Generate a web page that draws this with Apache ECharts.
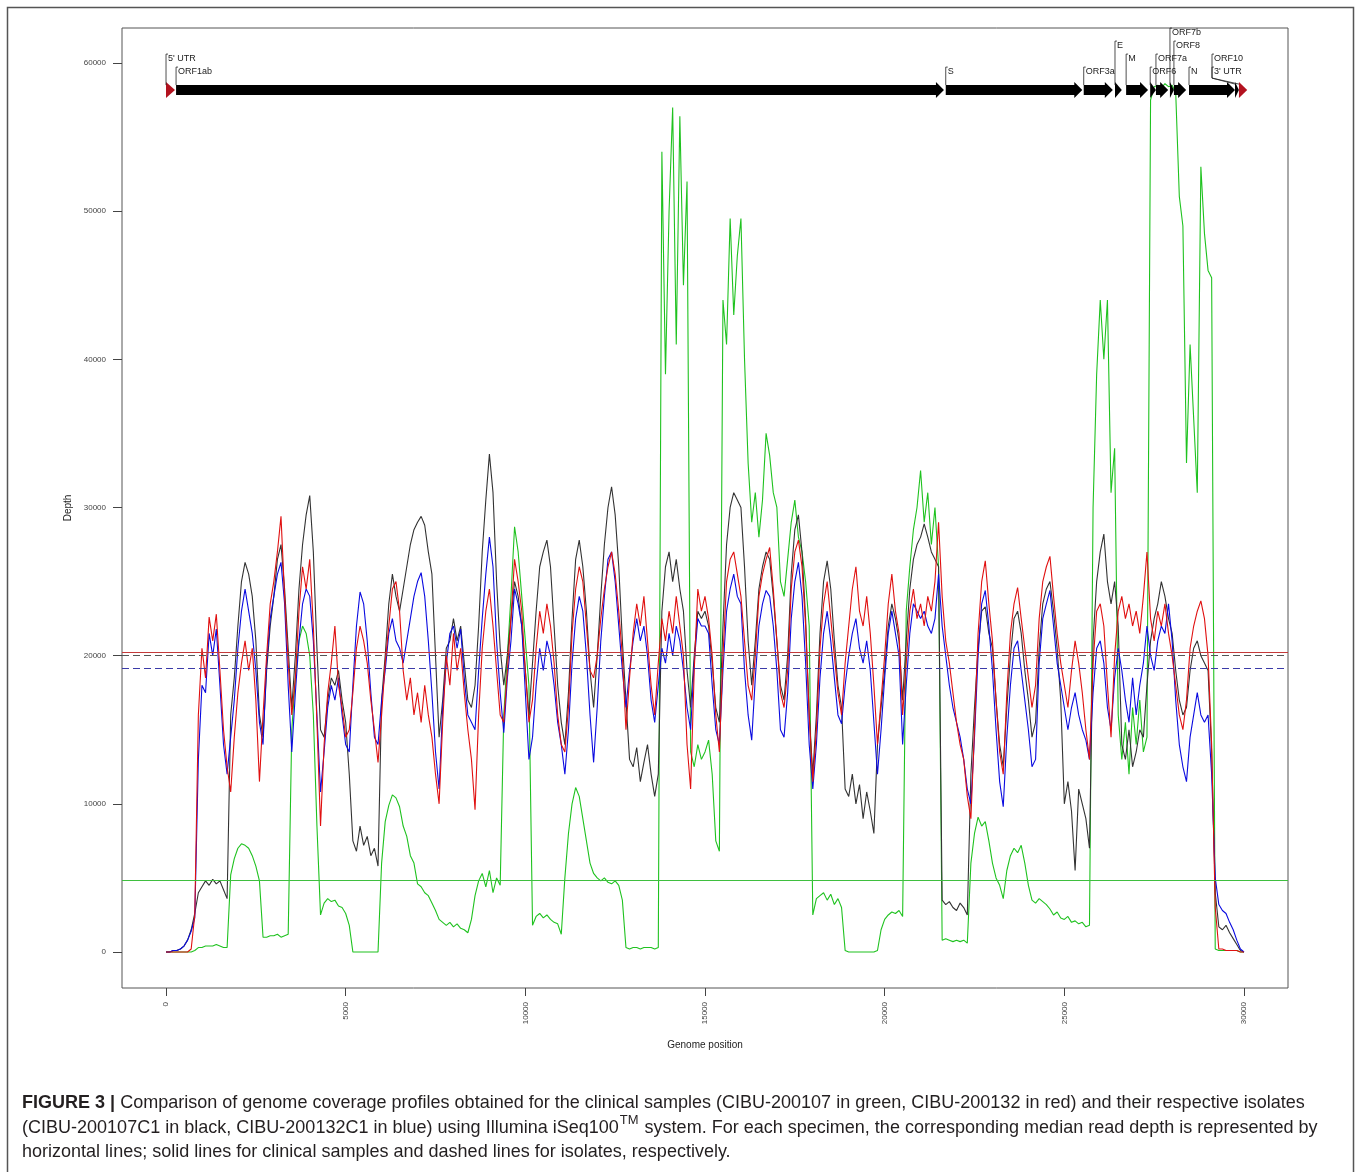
<!DOCTYPE html>
<html>
<head>
<meta charset="utf-8">
<script src="https://cdn.jsdelivr.net/npm/echarts@6.0.0/dist/echarts.min.js"></script>
<style>
  html, body { margin: 0; padding: 0; background: #fff; }
  #main { width: 1360px; height: 1172px; }
</style>
</head>
<body>
<div id="main"></div>
<script>
// read depth, in thousands of reads, sampled every 100 bp (one row = 1 kb)
var step = 100;

var greenDepthK = [ // CIBU-200107 (clinical)
  0,0,0,0,0,0,0,0,0.1,0.3,
  0.3,0.4,0.4,0.4,0.5,0.4,0.3,0.3,5.2,6.3,
  7.0,7.3,7.2,7.0,6.5,5.8,4.8,1.0,1.0,1.1,
  1.1,1.2,1.0,1.1,1.2,15.0,18.5,21.0,22.0,21.5,
  20.0,16.0,8.5,2.5,3.3,3.6,3.4,3.5,3.1,3.0,
  2.6,1.8,0,0,0,0,0,0,0,0,
  6.0,8.8,9.9,10.6,10.4,9.8,8.5,7.8,6.5,6.0,
  4.6,4.4,4.0,3.8,3.3,2.8,2.2,2.0,1.8,2.0,
  1.7,1.9,1.6,1.5,1.3,2.2,3.8,4.8,5.3,4.4,
  5.5,4.0,5.0,4.5,16.0,20.0,24.0,28.7,27.0,24.0,
  21.0,18.0,1.8,2.4,2.6,2.3,2.5,2.2,2.0,1.9,
  1.2,5.0,8.0,10.0,11.1,10.5,9.0,7.5,6.0,5.3,
  5.0,4.8,5.0,4.7,4.6,4.8,4.5,3.5,0.3,0.2,
  0.3,0.3,0.2,0.3,0.3,0.3,0.2,0.3,54.0,39.0,
  50.0,57.0,41.0,56.4,45.0,52.0,13.5,12.5,14.0,13.0,
  13.5,14.3,12.0,7.5,6.8,44.0,41.0,49.5,43.0,47.0,
  49.5,40.0,33.0,29.0,31.0,28.0,30.5,35.0,33.5,31.0,
  30.0,25.0,24.0,26.5,29.0,30.5,28.0,27.0,25.0,22.0,
  2.5,3.6,3.8,4.0,3.5,3.9,3.2,3.6,3.0,0.1,
  0,0,0,0,0,0,0,0,0.1,1.5,
  2.2,2.5,2.7,2.6,2.8,2.4,23.0,26.0,28.5,30.0,
  32.5,29.0,31.0,27.5,30.0,26.0,0.8,0.9,0.8,0.7,
  0.8,0.7,0.8,0.6,6.0,8.0,9.1,8.5,8.8,7.5,
  6.0,5.0,4.5,3.6,5.5,6.5,7.0,6.7,7.2,6.0,
  4.5,3.5,3.3,3.6,3.4,3.2,2.9,2.5,2.7,2.3,
  2.2,2.4,2.0,2.1,1.9,2.0,1.7,1.8,30.0,39.0,
  44.0,40.0,44.0,31.0,34.0,16.0,13.0,15.5,12.0,16.5,
  14.0,17.0,13.5,14.5,57.5,58.4,58.5,58.3,58.6,58.4,
  58.5,58.0,51.0,49.0,33.0,41.0,36.0,31.0,53.0,48.5,
  46.0,45.5,0.2,0.1,0.1,0.1,0.1,0.1,0.1,0,
  0
];

var blackDepthK = [ // CIBU-200107C1 (isolate)
  0,0,0.1,0.1,0.2,0.4,0.8,1.5,2.6,4.0,
  4.4,4.8,4.5,4.9,4.6,4.8,4.2,3.6,16.0,18.5,
  22.0,25.0,26.3,25.5,24.0,21.0,16.0,14.5,19.0,22.0,
  24.0,26.5,27.5,24.5,20.5,16.5,20.0,24.5,27.5,29.5,
  30.8,27.0,20.5,15.0,14.5,17.0,18.5,18.0,19.0,17.0,
  15.5,12.0,7.5,6.8,8.5,7.2,7.8,6.5,7.0,5.8,
  17.0,20.0,23.5,25.5,24.0,23.0,24.5,26.0,27.5,28.5,
  29.0,29.4,28.8,27.0,25.5,20.0,14.5,17.0,20.5,21.0,
  22.5,21.0,22.0,19.5,17.0,16.5,18.0,22.0,27.0,30.5,
  33.6,31.0,25.0,20.5,18.0,20.0,22.5,25.0,24.0,22.0,
  19.0,16.0,19.5,23.0,26.0,27.0,27.8,26.0,22.0,18.0,
  15.5,14.0,17.5,22.5,26.5,27.8,26.0,23.0,19.0,16.5,
  20.0,24.0,27.5,30.0,31.4,29.5,26.0,21.0,17.0,13.0,
  12.5,13.8,11.5,12.8,14.0,12.0,10.5,12.0,23.0,26.0,
  27.0,25.0,26.5,24.5,23.0,19.0,16.5,20.0,23.0,22.5,
  23.0,22.0,19.5,16.5,15.5,22.0,27.5,30.0,31.0,30.5,
  30.0,26.0,21.0,18.0,21.0,24.5,26.0,27.0,26.5,24.0,
  21.0,18.0,17.0,20.0,25.5,28.5,29.5,27.0,22.5,16.0,
  12.0,16.0,21.5,25.0,26.4,24.5,21.0,18.0,16.5,11.0,
  10.5,12.0,10.0,11.3,9.0,10.8,9.5,8.0,14.0,16.5,
  19.0,22.0,23.5,22.5,21.0,17.0,21.0,24.5,26.5,27.5,
  28.0,28.9,28.0,27.0,26.5,26.0,3.5,3.2,3.4,3.0,
  2.8,3.3,3.0,2.5,12.0,16.5,20.5,23.0,23.3,21.5,
  20.5,17.0,14.0,12.5,16.5,20.0,22.5,23.0,21.5,19.0,
  17.0,14.5,15.5,20.5,23.5,24.5,25.0,23.0,20.5,17.0,
  10.0,11.5,9.5,5.5,11.0,10.0,9.0,7.0,21.0,25.0,
  27.0,28.2,25.0,23.5,25.0,22.0,14.0,13.0,15.0,12.5,
  13.5,15.0,14.5,18.0,21.0,22.5,23.5,25.0,24.0,22.5,
  21.5,19.0,17.0,16.0,16.5,19.0,20.5,21.0,20.0,19.5,
  19.0,13.5,4.0,1.7,1.5,1.8,1.3,0.9,0.5,0.1,
  0
];

var blueDepthK = [ // CIBU-200132C1 (isolate)
  0,0,0.1,0.1,0.2,0.4,0.8,1.4,2.3,13.0,
  18.0,17.5,21.5,20.0,21.8,18.0,14.0,12.0,14.5,17.0,
  20.5,23.0,24.5,23.0,21.5,19.0,15.5,14.0,19.5,22.5,
  24.0,25.5,26.3,23.5,18.0,13.5,17.5,21.0,23.5,24.5,
  24.0,21.0,16.0,10.8,13.5,16.5,18.0,17.0,18.5,16.0,
  14.0,13.5,18.0,22.0,24.3,23.5,21.0,17.5,14.5,14.0,
  17.0,19.0,21.5,22.5,21.0,20.5,19.5,21.0,22.5,24.0,
  25.0,25.6,24.0,21.0,17.5,13.5,11.0,16.5,19.5,21.5,
  22.0,20.5,21.8,18.5,16.0,15.5,15.0,19.0,22.5,25.5,
  28.0,26.0,21.0,17.5,14.8,18.5,21.0,24.5,23.5,22.0,
  17.5,13.0,14.5,18.0,20.5,19.0,21.0,20.0,18.0,15.5,
  14.0,12.0,15.0,19.5,22.5,24.0,23.0,20.0,16.0,12.8,
  16.5,21.0,24.0,26.5,27.0,25.0,22.0,19.0,16.5,19.0,
  21.0,22.5,21.0,22.0,20.0,17.0,15.5,18.0,20.5,19.5,
  21.5,20.0,22.0,21.0,19.0,16.5,15.0,19.5,22.5,22.0,
  22.0,21.5,18.0,15.0,14.0,19.0,23.0,24.5,25.5,24.0,
  23.5,19.0,16.0,14.3,18.5,22.0,23.5,24.4,24.0,22.0,
  19.0,15.0,14.5,17.5,22.5,25.0,26.3,24.0,19.5,14.0,
  11.0,14.0,18.5,21.5,23.0,21.0,18.5,16.0,15.4,18.0,
  20.0,21.5,22.5,20.5,19.5,21.0,19.0,15.5,12.0,15.0,
  18.5,21.5,23.0,21.5,20.0,14.0,18.0,21.5,23.5,23.0,
  22.5,23.0,22.0,21.5,22.5,25.5,22.0,20.0,18.0,16.5,
  15.5,14.5,13.0,11.0,10.0,14.5,20.0,23.5,24.4,22.0,
  19.0,15.0,11.5,9.8,14.5,18.0,20.5,21.0,19.0,17.0,
  15.0,12.5,13.0,19.5,22.5,23.5,24.4,22.0,19.5,18.0,
  16.5,15.0,16.5,17.5,16.0,15.0,14.3,13.0,17.5,20.5,
  21.0,19.5,16.5,15.0,18.5,20.5,19.0,17.0,15.5,18.5,
  16.0,18.0,19.5,22.0,20.0,19.0,21.0,22.0,21.5,23.5,
  21.0,17.0,14.0,12.5,11.5,14.5,16.0,17.5,16.0,15.5,
  16.0,12.0,5.0,3.2,2.8,2.6,2.0,1.5,0.8,0.2,
  0
];

var redDepthK = [ // CIBU-200132 (clinical)
  0,0,0,0,0,0,0,0.2,2.5,16.0,
  20.5,18.5,22.6,21.0,22.8,19.0,15.0,12.5,10.8,14.5,
  17.5,19.5,21.0,19.0,20.5,17.0,11.5,16.0,20.0,23.5,
  25.0,27.0,29.4,24.0,19.5,16.0,18.5,23.0,26.0,24.5,
  26.5,22.0,15.5,8.5,14.0,17.5,19.5,22.0,18.0,16.5,
  14.5,15.0,17.5,20.5,22.0,21.0,19.5,17.0,15.0,12.8,
  16.0,19.5,22.0,24.5,25.0,23.0,19.0,17.0,18.5,16.0,
  17.5,15.5,18.0,16.0,14.5,12.0,10.0,15.5,20.0,18.0,
  21.5,19.0,20.5,17.5,15.0,13.0,9.6,16.0,20.5,23.0,
  24.5,22.0,19.0,16.0,15.5,19.0,22.5,26.5,25.0,23.0,
  19.0,15.5,17.0,20.5,23.0,21.5,23.5,22.0,19.5,16.0,
  14.0,13.5,16.5,21.5,24.5,26.0,25.0,22.0,19.0,18.5,
  20.0,22.5,24.5,26.0,27.0,25.5,23.0,20.0,15.0,18.5,
  21.5,23.5,22.0,24.0,21.0,18.0,16.0,19.5,22.5,21.0,
  23.0,21.5,24.0,22.0,20.0,14.0,11.0,19.0,24.5,23.0,
  24.0,22.5,20.0,16.0,13.5,20.0,25.0,26.5,27.0,25.5,
  24.0,21.0,18.0,17.0,20.0,24.0,25.5,26.5,27.3,24.5,
  21.0,17.5,16.5,19.0,24.5,27.0,27.8,26.0,22.0,16.0,
  11.5,15.0,20.5,23.5,25.0,22.5,20.0,17.5,16.0,19.5,
  22.0,24.5,26.0,23.0,22.0,24.0,21.5,18.0,14.0,17.0,
  20.0,23.5,25.5,23.0,21.5,16.0,19.5,23.0,24.5,22.5,
  23.5,22.0,24.0,23.0,25.0,29.0,24.0,21.0,19.5,17.5,
  15.5,14.0,13.0,10.5,9.0,15.0,21.5,25.0,26.4,23.5,
  21.0,17.0,13.5,12.0,17.5,21.5,23.5,24.6,22.5,20.5,
  18.5,16.5,18.0,22.5,25.0,26.0,26.7,24.0,21.5,19.5,
  18.0,16.5,19.0,21.0,19.5,17.5,15.0,13.0,19.5,23.0,
  23.5,22.0,18.0,14.5,20.0,23.0,24.0,22.5,23.5,22.0,
  23.0,21.5,24.0,27.0,22.5,21.0,23.0,22.0,23.5,21.5,
  20.0,18.0,16.0,15.0,17.0,20.5,22.0,23.0,23.7,22.5,
  20.0,14.0,3.0,0.2,0.2,0.1,0.1,0.1,0.1,0,
  0
];

// median read depth per specimen
var medianGreen = 4820;
var medianBlack = 20050;
var medianBlue = 19150;
var medianRed = 20200;

// genome annotation (bp, as drawn on the track)
var geneNames = ["5' UTR", 'ORF1ab', 'S', 'ORF3a', 'E', 'M', 'ORF6', 'ORF7a', 'ORF7b', 'ORF8', 'N', 'ORF10', "3' UTR"];
var geneStarts = [0, 280, 21700, 25540, 26410, 26720, 27390, 27550, 27940, 28050, 28470, 29750, 29860];
var geneEnds = [250, 21650, 25500, 26350, 26600, 27330, 27550, 27890, 28050, 28390, 29750, 29860, 30090];
var geneLabelRow = [1, 0, 0, 0, 2, 1, 0, 1, 3, 2, 0, 1, 0];
var geneLabelAt = [0, 280, 21700, 25540, 26410, 26720, 27390, 27550, 27940, 28050, 28470, 29110, 29110];
var geneTrackDepth = 58170;

var xTicks = [0, 5000, 10000, 15000, 20000, 25000, 30000];
var yTicks = [0, 10000, 20000, 30000, 40000, 50000, 60000];

var positions = [];
for (var i = 0; i < greenDepthK.length; i++) {
    positions.push(i * step);
}

function toPoints(depthK) {
    return depthK.map(function (v, i) {
        return [positions[i], Math.round(v * 1000)];
    });
}

function medianLine(value, color, type) {
    return {
        silent: true,
        symbol: ['none', 'none'],
        label: {show: false},
        emphasis: {disabled: true},
        lineStyle: {color: color, width: 1.2, type: type},
        data: [{yAxis: value}]
    };
}

function coverage(name, depthK, color, median, medColor, medType) {
    return {
        name: name,
        type: 'line',
        data: toPoints(depthK),
        showSymbol: false,
        silent: true,
        lineStyle: {color: color, width: 1.1},
        markLine: medianLine(median, medColor, medType)
    };
}

function renderGene(params, api) {
    var start = api.coord([api.value(0), geneTrackDepth]);
    var end = api.coord([api.value(1), geneTrackDepth]);
    var labelPt = api.coord([api.value(3), geneTrackDepth]);
    var row = api.value(2);
    var name = geneNames[params.dataIndex];
    var isUtr = name.indexOf('UTR') >= 0;
    var y = start[1], x0 = start[0], x1 = end[0];
    var head = Math.min(8, x1 - x0);
    var points = isUtr
        ? [[x0, y - 8], [x1, y], [x0, y + 8]]
        : [[x0, y - 5], [x1 - head, y - 5], [x1 - head, y - 8], [x1, y],
           [x1 - head, y + 8], [x1 - head, y + 5], [x0, y + 5]];
    var ty = y - 19 - row * 13;
    var lx = labelPt[0];
    var leader;
    if (Math.abs(lx - x0) < 1) {
        leader = [[x0 + 2, ty - 4], [x0, ty - 4], [x0, y - 5]];
    } else {
        leader = [[lx + 2, ty - 4], [lx, ty - 4], [lx, y - 12], [x0, y - 6]];
    }
    return {
        type: 'group',
        children: [
            {type: 'polygon', shape: {points: points}, style: {fill: isUtr ? '#b3121f' : '#000'}},
            {type: 'polyline', shape: {points: leader}, style: {stroke: '#222', lineWidth: 0.8, fill: null}},
            {
                type: 'text',
                style: {
                    text: name, x: lx + 2, y: ty,
                    font: '9px "Liberation Sans"', fill: '#222',
                    textAlign: 'left', textVerticalAlign: 'middle',
                    align: 'left', verticalAlign: 'middle'
                }
            }
        ]
    };
}

// caption
var capFamily = '"Liberation Sans"';
var capLines = [
    ' Comparison of genome coverage profiles obtained for the clinical samples (CIBU-200107 in green, CIBU-200132 in red) and their respective isolates',
    '(CIBU-200107C1 in black, CIBU-200132C1 in blue) using Illumina iSeq100',
    ' system. For each specimen, the corresponding median read depth is represented by',
    'horizontal lines; solid lines for clinical samples and dashed lines for isolates, respectively.'
];
var capLabel = 'FIGURE 3 |';
var measureCtx = document.createElement('canvas').getContext('2d');
function textWidth(str, font) {
    measureCtx.font = font;
    return measureCtx.measureText(str).width;
}
var w1 = textWidth(capLabel, 'bold 17px ' + capFamily) + textWidth(capLines[0], '17px ' + capFamily);
var w2 = textWidth(capLines[1] + 'TM' + capLines[2], '17px ' + capFamily);
var capSize = (17 * 1296 / w1 + 17 * 1290 / w2) / 2;
var capFont = capSize.toFixed(2) + 'px ' + capFamily;
var capBold = 'bold ' + capFont;
var supFont = (capSize * 0.72).toFixed(2) + 'px ' + capFamily;
var capX = 22;
var capColor = '#231f20';
var labelW = textWidth(capLabel, capBold);
var line2aW = textWidth(capLines[1], capFont);
var supW = textWidth('TM', supFont);

function capText(str, x, y, font) {
    return {
        type: 'text', silent: true,
        x: x, y: y,
        style: {text: str, font: font, fill: capColor, textVerticalAlign: 'middle', verticalAlign: 'middle'}
    };
}

var chart = echarts.init(document.getElementById('main'));

chart.setOption({
    backgroundColor: '#fff',
    animation: false,
    grid: {
        left: 122, top: 28, width: 1166, height: 960,
        show: true, borderColor: '#555', borderWidth: 1, backgroundColor: 'transparent'
    },
    xAxis: {
        type: 'value',
        min: -1225, max: 31225,
        name: 'Genome position',
        nameLocation: 'middle',
        nameGap: 52,
        nameTextStyle: {fontFamily: 'Liberation Sans', fontSize: 10, color: '#222'},
        axisLine: {show: false, onZero: false},
        axisTick: {show: true, length: 8, customValues: xTicks, lineStyle: {color: '#444'}},
        axisLabel: {
            customValues: xTicks, rotate: 90, margin: 14,
            fontFamily: 'Liberation Sans', fontSize: 8, color: '#444',
            formatter: function (v) { return String(v); }
        },
        splitLine: {show: false}
    },
    yAxis: {
        type: 'value',
        min: -2430, max: 62360,
        name: 'Depth',
        nameLocation: 'middle',
        nameGap: 48,
        nameTextStyle: {fontFamily: 'Liberation Sans', fontSize: 10, color: '#222'},
        axisLine: {show: false, onZero: false},
        axisTick: {show: true, length: 9, customValues: yTicks, lineStyle: {color: '#444'}},
        axisLabel: {
            customValues: yTicks, margin: 16,
            fontFamily: 'Liberation Sans', fontSize: 8, color: '#444',
            formatter: function (v) { return String(v); }
        },
        splitLine: {show: false}
    },
    series: [
        coverage('CIBU-200107', greenDepthK, '#1fc21f', medianGreen, '#3fbf3f', 'solid'),
        coverage('CIBU-200107C1', blackDepthK, '#333333', medianBlack, '#555555', [7, 4]),
        coverage('CIBU-200132C1', blueDepthK, '#0a0ae0', medianBlue, '#3b3ba8', [7, 4]),
        coverage('CIBU-200132', redDepthK, '#e01010', medianRed, '#c43a3a', 'solid'),
        {
            type: 'custom',
            silent: true,
            renderItem: renderGene,
            data: geneStarts.map(function (s, i) {
                return [s, geneEnds[i], geneLabelRow[i], geneLabelAt[i]];
            }),
            z: 10
        }
    ],
    graphic: [
        {
            type: 'rect', silent: true,
            shape: {x: 7.5, y: 7.5, width: 1346, height: 1180},
            style: {fill: null, stroke: '#555', lineWidth: 1.5}
        },
        capText(capLabel, capX, 1103, capBold),
        capText(capLines[0], capX + labelW, 1103, capFont),
        capText(capLines[1], capX, 1128, capFont),
        capText('TM', capX + line2aW + 1, 1120, supFont),
        capText(capLines[2], capX + line2aW + supW + 2, 1128, capFont),
        capText(capLines[3], capX, 1152, capFont)
    ]
});
</script>
</body>
</html>
